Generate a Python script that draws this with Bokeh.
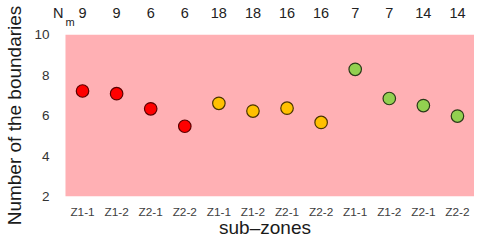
from bokeh.plotting import figure
from bokeh.models import (ColumnDataSource, Range1d, FixedTicker, LinearAxis,
                          BoxAnnotation)
from bokeh.transform import factor_cmap
from bokeh.embed import file_html
from bokeh.resources import INLINE

# ---- data ----
subzones = ["Z1-1", "Z1-2", "Z2-1", "Z2-2",
            "Z1-1", "Z1-2", "Z2-1", "Z2-2",
            "Z1-1", "Z1-2", "Z2-1", "Z2-2"]
n_m = [9, 9, 6, 6, 18, 18, 16, 16, 7, 7, 14, 14]
boundaries = [7.21, 7.08, 6.33, 5.47, 6.60, 6.22, 6.36, 5.66, 8.28, 6.84, 6.49, 5.97]
groups = ["g1", "g1", "g1", "g1", "g2", "g2", "g2", "g2", "g3", "g3", "g3", "g3"]
group_names = ["g1", "g2", "g3"]
y_ticks = [2, 4, 6, 8, 10]
y_min, y_max = 2, 10

# ---- styles ----
fill_palette = ["#FF0000", "#FFC000", "#92D050"]
line_palette = ["#5C0000", "#4A3400", "#2A3A18"]
PINK = "#FFB0B4"
FONT = "Liberation Sans"
N_POS, M_POS = 0.285, 0.637   # where the "N" and subscript "m" of N_m sit

pos = list(range(1, len(subzones) + 1))
src = ColumnDataSource(dict(x=pos, y=boundaries, g=groups))

p = figure(width=474, height=240, output_backend="svg", toolbar_location=None,
           x_range=Range1d(0.207, len(subzones) + 0.5), y_range=Range1d(y_min, y_max),
           min_border_left=55, min_border_right=0, min_border_top=34,
           min_border_bottom=43)
p.background_fill_color = "white"
p.border_fill_color = "white"
p.outline_line_color = None
p.xgrid.visible = False
p.ygrid.visible = False

# pink plotting area
p.add_layout(BoxAnnotation(left=0.5, right=len(subzones) + 0.5, bottom=y_min, top=y_max,
                           fill_color=PINK, fill_alpha=1.0, line_color=None,
                           level="underlay"))

p.scatter("x", "y", source=src, size=12.5, line_width=1.2,
          fill_color=factor_cmap("g", fill_palette, group_names),
          line_color=factor_cmap("g", line_palette, group_names))


def plain(ax):
    ax.axis_line_color = None
    ax.major_tick_line_color = None
    ax.minor_tick_line_color = None
    ax.major_tick_out = 0
    ax.major_tick_in = 0
    ax.minor_tick_out = 0
    ax.minor_tick_in = 0


# bottom axis
xa = p.xaxis[0]
plain(xa)
xa.ticker = FixedTicker(ticks=pos)
xa.major_label_overrides = {i: s for i, s in zip(pos, subzones)}
xa.major_label_standoff = 8
xa.major_label_text_font = FONT
xa.major_label_text_font_size = "11.8px"
xa.major_label_text_color = "#404040"
xa.axis_label = "sub\u2013zones"
xa.axis_label_standoff = -5
xa.axis_label_text_font = FONT
xa.axis_label_text_font_size = "19px"
xa.axis_label_text_font_style = "normal"
xa.axis_label_text_color = "#1a1a1a"

# left axis
ya = p.yaxis[0]
plain(ya)
ya.ticker = FixedTicker(ticks=y_ticks)
ya.major_label_standoff = 6
ya.major_label_text_font = FONT
ya.major_label_text_font_size = "13.5px"
ya.major_label_text_color = "#333333"
ya.axis_label = "Number of the boundaries"
ya.axis_label_standoff = 6
ya.axis_label_text_font = FONT
ya.axis_label_text_font_size = "19px"
ya.axis_label_text_font_style = "normal"
ya.axis_label_text_color = "#1a1a1a"

# top: subscript "m" (closest to the plot area)
am = LinearAxis(ticker=FixedTicker(ticks=[M_POS]), major_label_overrides={M_POS: "m"})
plain(am)
am.major_label_standoff = 7
am.major_label_text_font = FONT
am.major_label_text_font_size = "11px"
am.major_label_text_color = "#222222"
p.add_layout(am, "above")

# top: "N" and the N_m values
an = LinearAxis(ticker=FixedTicker(ticks=[N_POS] + pos),
                major_label_overrides={N_POS: "N", **{i: str(n) for i, n in zip(pos, n_m)}})
plain(an)
an.major_label_standoff = -8
an.major_label_text_font = FONT
an.major_label_text_font_size = "14.5px"
an.major_label_text_color = "#222222"
p.add_layout(an, "above")

open("out.html", "w").write(file_html(p, INLINE))
